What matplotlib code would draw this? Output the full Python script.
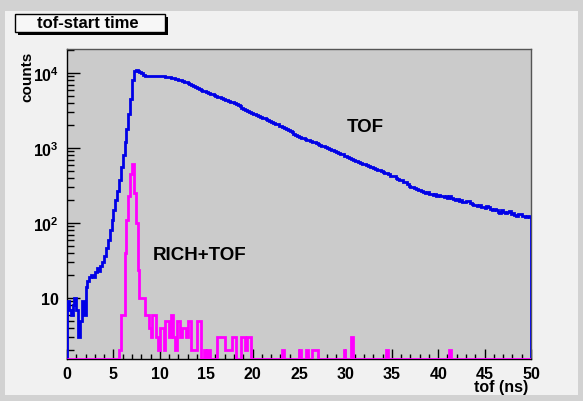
import numpy as np
import matplotlib
matplotlib.use('Agg')
import matplotlib.pyplot as plt
from matplotlib.patches import Rectangle
from matplotlib.ticker import MultipleLocator, LogLocator, NullFormatter

# tof histogram (0.2 ns bins, 0-50 ns)
bin_width = 0.2
blue_counts = [
    9, 7, 6, 8, 10, 7, 3, 5, 9, 6, 14, 17, 19, 20, 19, 22, 25, 23, 27, 30,
    36, 46, 60, 80, 110, 150, 200, 270, 380, 560,
    800, 1200, 1800, 2800, 4500, 8000, 10500, 10900, 10800, 10300,
    9900, 9500, 9200, 9100, 9150, 9050, 9200, 9150, 9100, 9200,
    9100, 9050, 9000, 8950, 8850, 8750, 8650, 8550, 8400, 8300,
    8150, 8000, 7850, 7650, 7500, 7300, 7150, 6950, 6750, 6500,
    6300, 6100, 5950, 5800, 5700, 5550, 5450, 5300, 5200, 5050,
    4950, 4850, 4750, 4600, 4500, 4400, 4350, 4250, 4150, 4050,
    3980, 3880, 3780, 3650, 3450, 3350, 3200, 3120, 3020, 2950,
    2880, 2820, 2720, 2660, 2600, 2540, 2480, 2420, 2350, 2290,
    2230, 2180, 2120, 2060, 1990, 1950, 1880, 1840, 1780, 1730,
    1690, 1620, 1550, 1500, 1450, 1410, 1370, 1340, 1310, 1290,
    1270, 1240, 1210, 1185, 1160, 1130, 1110, 1080, 1060, 1030,
    1010, 985, 950, 930, 910, 880, 860, 835, 820, 790,
    790, 760, 730, 705, 700, 675, 680, 650, 640, 615,
    610, 585, 575, 560, 560, 540, 525, 505, 510, 490,
    480, 465, 470, 445, 430, 425, 420, 400, 390, 375,
    370, 355, 350, 335, 315, 305, 305, 290, 283, 275,
    275, 265, 260, 250, 258, 245, 242, 238, 244, 232,
    240, 230, 228, 222, 226, 218, 230, 215, 208, 200,
    210, 198, 202, 192, 188, 194, 196, 185, 182, 176,
    175, 168, 176, 165, 166, 160, 170, 162, 155, 150,
    152, 148, 142, 136, 148, 140, 136, 142, 146, 134,
    136, 128, 125, 130, 132, 124, 126, 119, 125, 120,
]

# RICH+TOF histogram (same bins), only non-empty bins listed
pink_t = [
    5.6, 5.8, 6.0, 6.2, 6.4, 6.6, 6.8, 7.0, 7.2, 7.4,
    7.6, 7.8, 8.0, 8.2, 8.4, 8.6, 8.8, 9.0, 9.2, 9.4,
    9.6, 9.8, 10.0, 10.2, 10.4, 10.6, 10.8, 11.0, 11.2, 11.4,
    11.6, 11.8, 12.0, 12.2, 12.4, 12.6, 12.8, 13.0, 13.2, 13.4,
    13.6, 13.8, 14.0, 14.2,
    14.8, 15.2,
    16.2, 16.4, 16.6, 16.8, 17.0, 17.2, 17.4, 17.6, 17.8, 18.0,
    18.8, 19.0, 19.2, 19.4, 19.6,
    23.2, 25.0, 25.8, 26.4, 26.6, 26.8, 29.8, 30.6, 34.4, 41.2,
]
pink_n = [
    2, 6, 6, 40, 110, 230, 450, 610, 250, 100,
    24, 10, 10, 10, 6, 6, 4, 3, 6, 6,
    3, 2, 4, 4, 2, 5, 5, 3, 6, 3,
    2, 5, 5, 3, 4, 4, 3, 5, 5, 2,
    2, 2, 5, 5,
    2, 2,
    3, 3, 3, 3, 2, 2, 2, 2, 3, 3,
    3, 3, 2, 3, 3,
    2, 2, 2, 2, 2, 2, 2, 3, 2, 2,
]

xmax = 50
ymin, ymax = 1.54, 20900

plt.rcParams['font.family'] = ['Liberation Sans', 'DejaVu Sans']
plt.rcParams['font.weight'] = 'bold'
plt.rcParams['mathtext.fontset'] = 'custom'
plt.rcParams['mathtext.rm'] = 'Liberation Sans:bold'
plt.rcParams['mathtext.bf'] = 'Liberation Sans:bold'

W, H = 583, 402
fig = plt.figure(figsize=(W / 100, H / 100), dpi=100)
fig.patch.set_facecolor('#d2d2d2')
fig.add_artist(Rectangle((5 / W, 1 - 396 / H), 573 / W, 384 / H,
                         transform=fig.transFigure, facecolor='#f1f1f1',
                         edgecolor='none', zorder=-10))

ax = fig.add_axes([67 / W, 1 - 360 / H, 464 / W, 310 / H])
ax.set_zorder(1)
ax.set_facecolor('#cbcbcb')

edges = np.arange(len(blue_counts) + 1) * bin_width
ax.stairs(np.clip(np.array(blue_counts, float), ymin, None), edges,
          baseline=ymin, color='#0000e6', lw=2.0, zorder=3)

pink = np.zeros(len(blue_counts))
idx = np.round(np.array(pink_t) / bin_width).astype(int)
pink[idx] = pink_n
ax.stairs(np.clip(pink, ymin, None), edges, baseline=ymin,
          color='#ff00ff', lw=2.0, zorder=4)

ax.set_yscale('log')
ax.set_xlim(0, xmax)
ax.set_ylim(ymin, ymax)

ax.set_xticks(np.arange(0, 51, 5))
ax.set_xticklabels([str(v) for v in range(0, 51, 5)])
ax.xaxis.set_minor_locator(MultipleLocator(1))
ax.set_yticks([10, 100, 1000, 10000])
ax.set_yticklabels(['10', r'$10^{2}$', r'$10^{3}$', r'$10^{4}$'])
ax.yaxis.set_minor_locator(LogLocator(base=10, subs=np.arange(2, 10)))
ax.yaxis.set_minor_formatter(NullFormatter())

ax.tick_params(axis='x', which='major', direction='in', length=7, width=1,
               labelsize=11.5, pad=5)
ax.tick_params(axis='x', which='minor', direction='in', length=3.5, width=1)
ax.tick_params(axis='y', which='major', direction='in', length=9, width=1,
               labelsize=11.5, pad=6)
ax.tick_params(axis='y', which='minor', direction='in', length=5, width=1)

for s in ['top', 'right']:
    ax.spines[s].set_color('#555555')
    ax.spines[s].set_linewidth(1)
for s in ['left', 'bottom']:
    ax.spines[s].set_color('black')
    ax.spines[s].set_linewidth(1)

fig.text(528 / W, 1 - 388 / H, 'tof (ns)', ha='right', va='center',
         fontsize=11.5, fontweight='bold')
fig.text(27 / W, 1 - 52 / H, 'counts', rotation=90, ha='center', va='top',
         fontsize=11, fontweight='bold')

fig.text(365 / W, 1 - 128 / H, 'TOF', ha='center', va='center',
         fontsize=13.5, fontweight='bold', zorder=5)
fig.text(200 / W, 1 - 256 / H, 'RICH+TOF', ha='center', va='center',
         fontsize=13.5, fontweight='bold', zorder=5)

# title box with ROOT-style shadow
fig.add_artist(Rectangle((18 / W, 1 - 36 / H), 150 / W, 18 / H,
                         transform=fig.transFigure, facecolor='black',
                         edgecolor='none', zorder=2))
fig.add_artist(Rectangle((15 / W, 1 - 33 / H), 150 / W, 18 / H,
                         transform=fig.transFigure, facecolor='#f7f7f7',
                         edgecolor='black', lw=1, zorder=3))
fig.text(88 / W, 1 - 24 / H, 'tof-start time', ha='center', va='center',
         fontsize=12, fontweight='bold', zorder=4)

fig.savefig('out.png', dpi=100, facecolor=fig.get_facecolor())
